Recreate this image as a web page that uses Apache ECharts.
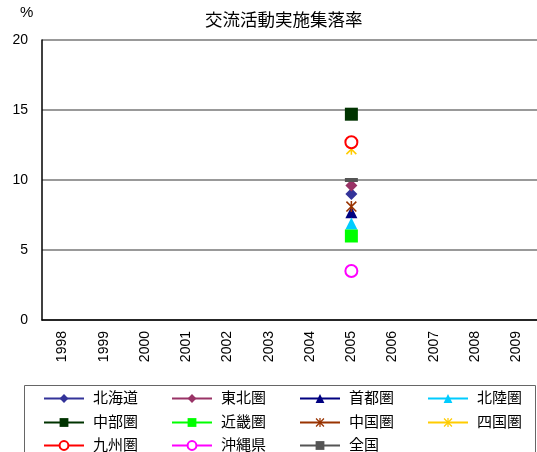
<!DOCTYPE html>
<html>
<head>
<meta charset="utf-8">
<script src="https://cdn.jsdelivr.net/npm/echarts@6/dist/echarts.min.js"></script>
<style>html,body{margin:0;padding:0;background:#fff;overflow:hidden;}#c{width:537px;height:452px;}</style>
</head>
<body>
<div id="c"></div>
<script>
const years = ['1998','1999','2000','2001','2002','2003','2004','2005','2006','2007','2008','2009'];
const yTicks = [0, 5, 10, 15, 20];
const names = ['北海道','東北圏','首都圏','北陸圏','中部圏','近畿圏','中国圏','四国圏','九州圏','沖縄県','全国'];
const hokkaido = [null,null,null,null,null,null,null,9.0,null,null,null,null];
const tohoku   = [null,null,null,null,null,null,null,9.6,null,null,null,null];
const shuto    = [null,null,null,null,null,null,null,7.7,null,null,null,null];
const hokuriku = [null,null,null,null,null,null,null,6.9,null,null,null,null];
const chubu    = [null,null,null,null,null,null,null,14.7,null,null,null,null];
const kinki    = [null,null,null,null,null,null,null,6.0,null,null,null,null];
const chugoku  = [null,null,null,null,null,null,null,8.1,null,null,null,null];
const shikoku  = [null,null,null,null,null,null,null,12.2,null,null,null,null];
const kyushu   = [null,null,null,null,null,null,null,12.7,null,null,null,null];
const okinawa  = [null,null,null,null,null,null,null,3.5,null,null,null,null];
const zenkoku  = [null,null,null,null,null,null,null,10.0,null,null,null,null];

const seriesData = [hokkaido,tohoku,shuto,hokuriku,chubu,kinki,chugoku,shikoku,kyushu,okinawa,zenkoku];
const colors = ['#333399','#993366','#000080','#00CCFF','#003300','#00FF00','#993300','#FFCC00','#FF0000','#FF00FF','#555555'];
const star = 'path://M4.3,0L5.7,0L5.7,10L4.3,10ZM0,1L1,0L10,9L9,10ZM9,0L10,1L1,10L0,9Z';
const symbols = ['diamond','diamond','triangle','triangle','rect','rect',star,star,'emptyCircle','emptyCircle','rect'];
const sizes = [12,12,12,12,13,13,11,11,12,12,[13,4]];

const font = '"Liberation Sans", Arial, "Noto Sans CJK JP", sans-serif';

const series = names.map((n,i)=>({
  name: n,
  type: 'line',
  data: seriesData[i],
  symbol: symbols[i],
  symbolSize: sizes[i],
  showAllSymbol: true,
  connectNulls: false,
  lineStyle: {color: colors[i], width: 2},
  itemStyle: {
    color: colors[i],
    borderColor: colors[i],
    borderWidth: symbols[i]==='emptyCircle' ? 1.8 : 0
  },
  emphasis: {disabled: true},
  z: 3
}));

const colLeft = [43, 171, 299, 427];
const rowTop = [391, 415, 438];
const legends = names.map((n,i)=>({
  data: [n],
  left: colLeft[i % 4],
  top: rowTop[Math.floor(i / 4)],
  padding: 0,
  orient: 'horizontal',
  itemWidth: 40,
  itemHeight: 11,
  selectedMode: false,
  lineStyle: {width: 2},
  textStyle: {fontSize: 15, color: '#000', fontFamily: font, padding: [0,0,0,4]}
}));

const chart = echarts.init(document.getElementById('c'), null, {renderer: 'canvas'});
chart.setOption({
  animation: false,
  backgroundColor: '#fff',
  title: {
    text: '交流活動実施集落率',
    left: 200, top: 7,
    textStyle: {fontSize: 17.5, fontWeight: 'normal', color: '#000', fontFamily: font}
  },
  graphic: [
    {type: 'text', left: 20, top: 5, style: {text: '%', fontSize: 15, fill: '#000', fontFamily: font}},
    {type: 'rect', shape: {x: 24.5, y: 385.5, width: 511, height: 80}, style: {fill: 'none', stroke: '#666', lineWidth: 1}, z: -1}
  ],
  legend: legends,
  grid: {left: 42, right: -3, top: 40, bottom: 132},
  xAxis: {
    type: 'category',
    data: years,
    boundaryGap: true,
    axisLine: {lineStyle: {color: '#000', width: 1.5}},
    axisTick: {inside: true, length: 4, lineStyle: {color: '#000'}},
    axisLabel: {rotate: 90, fontSize: 14, color: '#000', fontFamily: font, margin: 11, interval: 0}
  },
  yAxis: {
    type: 'value',
    min: yTicks[0], max: yTicks[yTicks.length-1], interval: 5,
    axisLine: {show: true, lineStyle: {color: '#000', width: 1.5}},
    axisTick: {show: false},
    axisLabel: {fontSize: 14, color: '#000', fontFamily: font, margin: 14},
    splitLine: {lineStyle: {color: '#999', width: 2}}
  },
  series: series
});
</script>
</body>
</html>
